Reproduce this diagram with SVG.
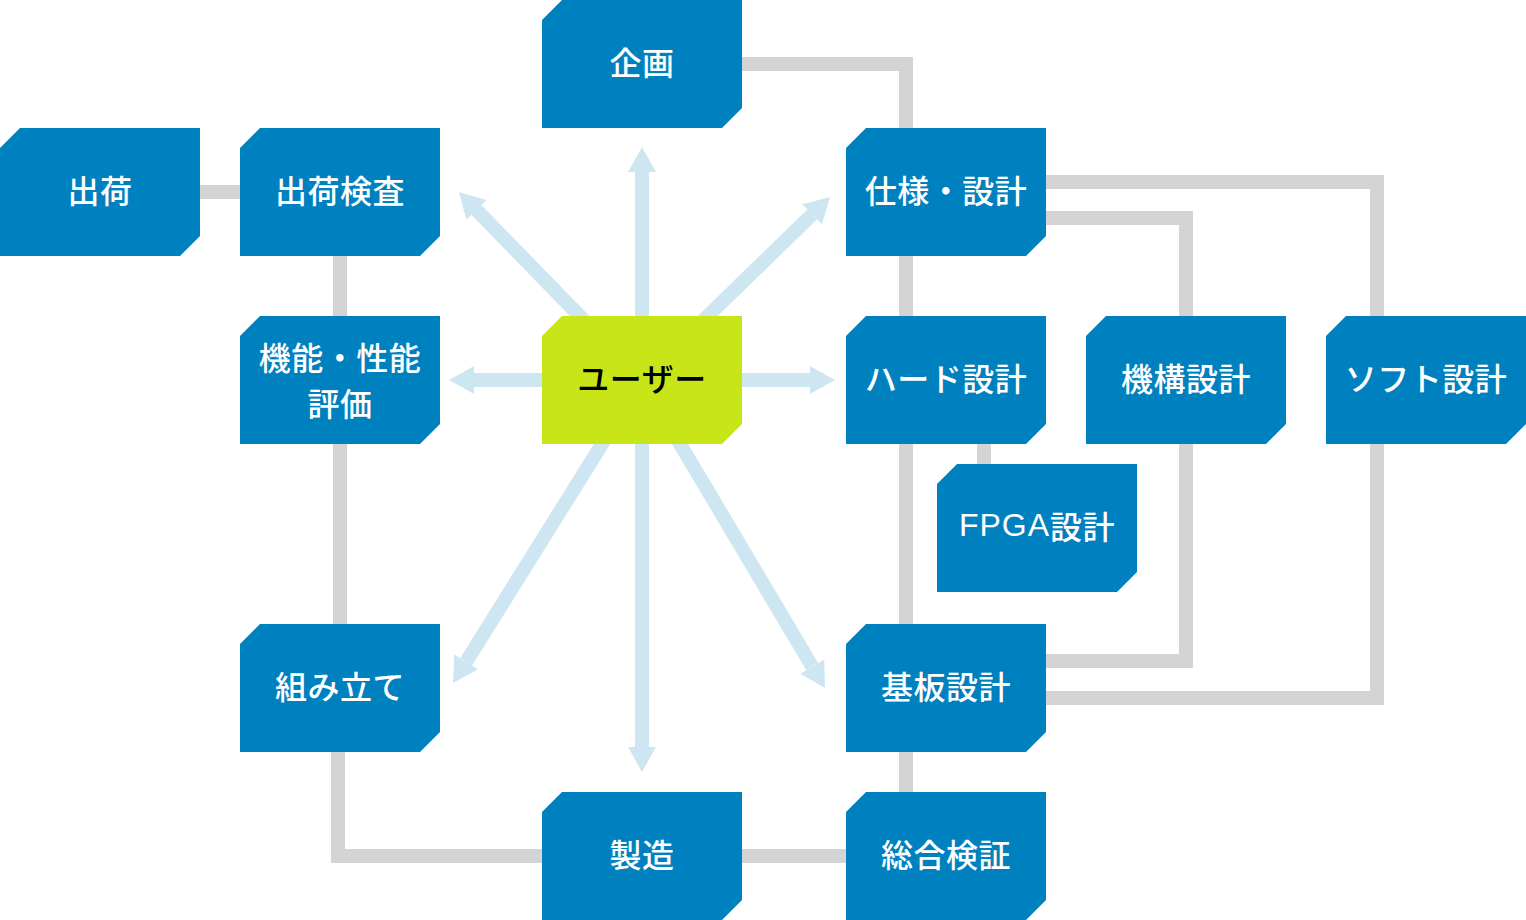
<svg xmlns="http://www.w3.org/2000/svg" width="1526" height="920" viewBox="0 0 1526 920">
<style>
.conn{fill:none;stroke:#d4d4d4;stroke-width:14;stroke-linejoin:miter}
.arr{fill:none;stroke:#cde6f1;stroke-width:14}
.box{fill:#0081bf}
.user{fill:#c8e617}
.t{font-family:"Noto Sans CJK JP","Noto Sans",sans-serif;font-size:32px;font-weight:500;letter-spacing:0.5px;fill:#ffffff;text-anchor:middle;dominant-baseline:central}
.tu{fill:#000000}
.lat{font-family:"Liberation Sans",Arial,sans-serif;font-weight:400;letter-spacing:1px}
</style>
<defs>
<path id="shape" d="M20,0 H200 V108 L180,128 H0 V20 Z"/>
<marker id="ah" markerUnits="userSpaceOnUse" markerWidth="25" markerHeight="28" refX="0" refY="14" orient="auto" viewBox="0 0 25 28">
<path d="M0,0 L25,14 L0,28 Z" fill="#cde6f1"/>
</marker>
</defs>
<rect width="1526" height="920" fill="#ffffff"/>
<g id="arrows">
<line class="arr" x1="642" y1="380" x2="642" y2="172" marker-end="url(#ah)"/>
<line class="arr" x1="642" y1="380" x2="476.4" y2="209.9" marker-end="url(#ah)"/>
<line class="arr" x1="642" y1="380" x2="812.1" y2="214.4" marker-end="url(#ah)"/>
<line class="arr" x1="642" y1="380" x2="474" y2="380" marker-end="url(#ah)"/>
<line class="arr" x1="642" y1="380" x2="810" y2="380" marker-end="url(#ah)"/>
<line class="arr" x1="642" y1="380" x2="466.2" y2="661.8" marker-end="url(#ah)"/>
<line class="arr" x1="642" y1="380" x2="642" y2="747" marker-end="url(#ah)"/>
<line class="arr" x1="642" y1="380" x2="812.2" y2="666.5" marker-end="url(#ah)"/>
</g>
<g id="connectors">
<path class="conn" d="M742,64 H906 V128"/>
<path class="conn" d="M200,192 H240"/>
<path class="conn" d="M340,256 V316"/>
<path class="conn" d="M340,444 V624"/>
<path class="conn" d="M338,752 V856 H542"/>
<path class="conn" d="M742,856 H846"/>
<path class="conn" d="M906,752 V792"/>
<path class="conn" d="M906,256 V316"/>
<path class="conn" d="M906,444 V624"/>
<path class="conn" d="M984,444 V464"/>
<path class="conn" d="M1046,182 H1377 V316"/>
<path class="conn" d="M1046,218 H1186 V316"/>
<path class="conn" d="M1186,444 V661 H1046"/>
<path class="conn" d="M1377,444 V698 H1046"/>
</g>
<g id="n-kikaku"><use href="#shape" class="box" x="542" y="0"/><text class="t" x="642" y="61">企画</text></g>
<g id="n-shukka"><use href="#shape" class="box" x="0" y="128"/><text class="t" x="100" y="189">出荷</text></g>
<g id="n-shukkakensa"><use href="#shape" class="box" x="240" y="128"/><text class="t" x="340" y="189">出荷検査</text></g>
<g id="n-shiyou"><use href="#shape" class="box" x="846" y="128"/><text class="t" x="946" y="189">仕様・設計</text></g>
<g id="n-kinou"><use href="#shape" class="box" x="240" y="316"/><text class="t" x="340" y="356">機能・性能</text><text class="t" x="340" y="402">評価</text></g>
<g id="n-user"><use href="#shape" class="user" x="542" y="316"/><text class="t tu" x="642" y="377">ユーザー</text></g>
<g id="n-hard"><use href="#shape" class="box" x="846" y="316"/><text class="t" x="946" y="377">ハード設計</text></g>
<g id="n-kikou"><use href="#shape" class="box" x="1086" y="316"/><text class="t" x="1186" y="377">機構設計</text></g>
<g id="n-soft"><use href="#shape" class="box" x="1326" y="316"/><text class="t" x="1426" y="377">ソフト設計</text></g>
<g id="n-fpga"><use href="#shape" class="box" x="937" y="464"/><text class="t" x="1037" y="525"><tspan class="lat">FPGA</tspan>設計</text></g>
<g id="n-kumitate"><use href="#shape" class="box" x="240" y="624"/><text class="t" x="340" y="685">組み立て</text></g>
<g id="n-kiban"><use href="#shape" class="box" x="846" y="624"/><text class="t" x="946" y="685">基板設計</text></g>
<g id="n-seizou"><use href="#shape" class="box" x="542" y="792"/><text class="t" x="642" y="853">製造</text></g>
<g id="n-sougou"><use href="#shape" class="box" x="846" y="792"/><text class="t" x="946" y="853">総合検証</text></g>
</svg>
